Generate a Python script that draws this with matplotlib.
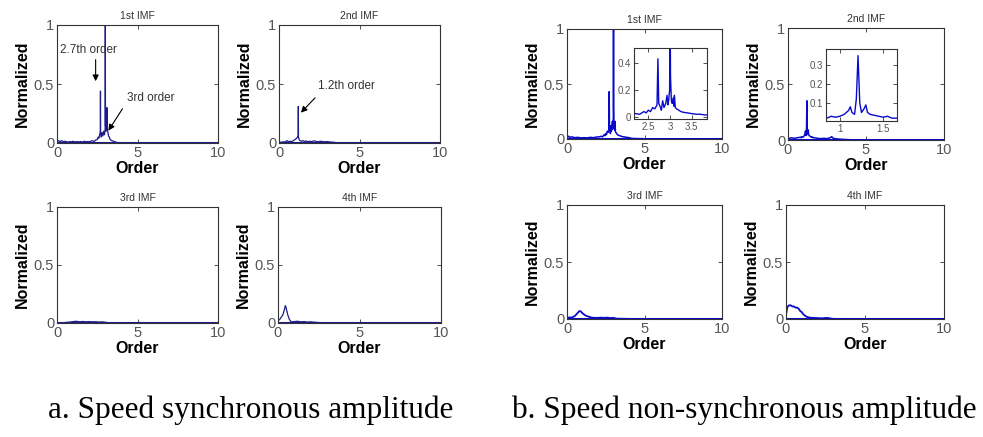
import matplotlib
matplotlib.use("Agg")
import matplotlib.pyplot as plt

plt.rcParams["font.family"] = ["Liberation Sans", "DejaVu Sans"]

# ---- data ----
# a. synchronous, 1st IMF
a1_x = [0, 0.1, 0.2, 0.3, 0.4, 0.5, 0.6, 0.7, 0.8, 0.9, 1.0, 1.1, 1.2, 1.3, 1.4, 1.5,
        1.6, 1.7, 1.8, 1.9, 2.0, 2.1, 2.2, 2.3, 2.4, 2.5, 2.55, 2.6, 2.65, 2.69, 2.7,
        2.71, 2.75, 2.8, 2.85, 2.9, 2.95, 2.99, 3.0, 3.01, 3.05, 3.09, 3.1, 3.11,
        3.15, 3.2, 3.25, 3.3, 3.4, 3.5, 3.6, 3.7, 4.0, 5, 6, 7, 8, 9, 10]
a1_y = [0.01, 0.02, 0.012, 0.02, 0.01, 0.015, 0.01, 0.008, 0.012, 0.01, 0.015, 0.008,
        0.012, 0.01, 0.01, 0.012, 0.008, 0.015, 0.01, 0.012, 0.01, 0.015, 0.02, 0.012,
        0.025, 0.03, 0.05, 0.04, 0.07, 0.1, 0.44, 0.08, 0.05, 0.09, 0.06, 0.1, 0.07,
        0.12, 1.0, 0.15, 0.1, 0.12, 0.3, 0.14, 0.1, 0.06, 0.05, 0.03, 0.02, 0.015,
        0.01, 0.005, 0.002, 0, 0, 0, 0, 0, 0]

# a. synchronous, 2nd IMF
a2_x = [0, 0.2, 0.4, 0.5, 0.6, 0.7, 0.8, 0.9, 1.0, 1.1, 1.15, 1.19, 1.2, 1.21, 1.25,
        1.3, 1.4, 1.5, 1.6, 1.7, 1.8, 1.9, 2.0, 2.2, 2.4, 2.6, 2.8, 3.0, 3.2, 3.4,
        3.6, 4.0, 6, 8, 10]
a2_y = [0.005, 0.008, 0.01, 0.02, 0.01, 0.015, 0.012, 0.02, 0.03, 0.04, 0.05, 0.06,
        0.31, 0.05, 0.03, 0.02, 0.015, 0.02, 0.012, 0.018, 0.01, 0.015, 0.012, 0.018,
        0.01, 0.015, 0.01, 0.012, 0.008, 0.006, 0.003, 0.001, 0, 0, 0]

# a. synchronous, 3rd IMF
a3_x = [0, 0.4, 0.8, 1.0, 1.2, 1.4, 1.6, 1.8, 2.0, 2.2, 2.4, 2.6, 2.8, 3.0, 3.2, 4, 10]
a3_y = [0.002, 0.003, 0.008, 0.012, 0.015, 0.01, 0.013, 0.01, 0.012, 0.01, 0.011,
        0.008, 0.01, 0.006, 0.002, 0.001, 0]

# a. synchronous, 4th IMF
a4_x = [0, 0.1, 0.2, 0.3, 0.4, 0.45, 0.5, 0.6, 0.7, 0.8, 1.0, 1.2, 1.4, 1.6, 1.8,
        2.0, 2.3, 2.6, 3.0, 10]
a4_y = [0.02, 0.03, 0.05, 0.07, 0.12, 0.15, 0.13, 0.07, 0.03, 0.01, 0.012, 0.015,
        0.01, 0.012, 0.008, 0.01, 0.006, 0.003, 0.001, 0]

# b. non-synchronous, 1st IMF
b1_x = [0, 0.1, 0.2, 0.3, 0.5, 0.7, 0.9, 1.1, 1.3, 1.5, 1.7, 1.9, 2.1, 2.2, 2.3, 2.4,
        2.45, 2.5, 2.55, 2.6, 2.65, 2.7, 2.72, 2.74, 2.78, 2.8, 2.83, 2.86, 2.9,
        2.93, 2.95, 2.97, 2.99, 3.0, 3.01, 3.03, 3.05, 3.07, 3.09, 3.1, 3.12, 3.15,
        3.2, 3.25, 3.3, 3.4, 3.5, 3.6, 3.7, 3.8, 3.9, 4.2, 5, 6, 7, 8, 9, 10]
b1_y = [0.01, 0.025, 0.015, 0.02, 0.012, 0.015, 0.01, 0.012, 0.01, 0.015, 0.012,
        0.018, 0.02, 0.025, 0.02, 0.04, 0.03, 0.05, 0.04, 0.07, 0.06, 0.09, 0.43,
        0.1, 0.07, 0.05, 0.12, 0.07, 0.1, 0.16, 0.09, 0.13, 0.2, 1.0, 0.3, 0.12, 0.1,
        0.14, 0.08, 0.16, 0.07, 0.06, 0.05, 0.04, 0.035, 0.03, 0.025, 0.02, 0.02,
        0.015, 0.015, 0.005, 0.002, 0.001, 0, 0, 0, 0]

# b. non-synchronous, 2nd IMF
b2_x = [0, 0.2, 0.4, 0.6, 0.8, 0.85, 0.9, 0.95, 1.0, 1.05, 1.1, 1.12, 1.14, 1.17,
        1.19, 1.21, 1.23, 1.25, 1.28, 1.3, 1.32, 1.35, 1.4, 1.45, 1.5, 1.55, 1.6,
        1.7, 1.9, 2.1, 2.3, 2.5, 2.7, 2.8, 2.9, 3.1, 3.3, 3.6, 4, 6, 8, 10]
b2_y = [0.01, 0.02, 0.015, 0.02, 0.025, 0.02, 0.03, 0.025, 0.03, 0.04, 0.06, 0.08,
        0.05, 0.04, 0.12, 0.35, 0.1, 0.05, 0.07, 0.09, 0.05, 0.04, 0.035, 0.03,
        0.025, 0.03, 0.02, 0.02, 0.015, 0.012, 0.015, 0.012, 0.02, 0.03, 0.015,
        0.01, 0.008, 0.005, 0.002, 0, 0, 0]

# b. non-synchronous, 3rd IMF
b3_x = [0, 0.1, 0.2, 0.3, 0.4, 0.5, 0.6, 0.7, 0.8, 0.9, 1.0, 1.1, 1.2, 1.4, 1.6, 1.8,
        2.0, 2.2, 2.4, 2.6, 2.8, 3.0, 3.2, 4, 10]
b3_y = [0.02, 0.01, 0.015, 0.01, 0.02, 0.025, 0.04, 0.055, 0.07, 0.065, 0.05, 0.04,
        0.03, 0.02, 0.012, 0.01, 0.01, 0.012, 0.01, 0.012, 0.008, 0.01, 0.003,
        0.001, 0]

# b. non-synchronous, 4th IMF
b4_x = [0, 0.05, 0.1, 0.2, 0.3, 0.4, 0.5, 0.6, 0.7, 0.8, 0.9, 1.0, 1.1, 1.2, 1.3,
        1.5, 1.7, 2.0, 2.3, 2.6, 2.8, 3.0, 10]
b4_y = [0.03, 0.08, 0.11, 0.12, 0.12, 0.11, 0.11, 0.1, 0.1, 0.09, 0.07, 0.06, 0.04,
        0.03, 0.02, 0.012, 0.01, 0.008, 0.006, 0.01, 0.005, 0.001, 0]

titles = ["1st IMF", "2nd IMF", "3rd IMF", "4th IMF"]
xticks = [0, 5, 10]
yticks = [0, 0.5, 1]
ytick_labels = ["0", "0.5", "1"]
captions = ["a. Speed synchronous amplitude", "b. Speed non-synchronous amplitude"]

# ---- figure ----
W, H = 983, 437
fig = plt.figure(figsize=(W / 100, H / 100), dpi=100)


def box(l, r, t, b):
    return [l / W, 1 - b / H, (r - l) / W, (b - t) / H]


def style(ax, fs=10.5):
    ax.tick_params(direction="in", top=True, right=True, length=3, width=0.6,
                   labelsize=fs, labelcolor="#555555", color="#333333", pad=2)
    for s in ax.spines.values():
        s.set_linewidth(0.8)
        s.set_color("#333333")


def panel(rect, x, y, title, color, lw):
    ax = fig.add_axes(rect)
    ax.plot(x, y, color=color, lw=lw)
    ax.axhline(0, color=color, lw=2.2)
    ax.set_xlim(0, 10)
    ax.set_ylim(0, 1)
    ax.set_xticks(xticks)
    ax.set_xticklabels([str(t) for t in xticks])
    ax.set_yticks(yticks)
    ax.set_yticklabels(ytick_labels)
    ax.set_title(title, fontsize=7.5, color="#333333", pad=4)
    ax.set_xlabel("Order", fontsize=11.5, fontweight="bold", labelpad=1)
    ax.set_ylabel("Normalized", fontsize=11.5, fontweight="bold", labelpad=3)
    style(ax)
    return ax


navy = "#1c1c8a"
blue = "#0a0acc"

ax_a1 = panel(box(57, 218, 25, 143), a1_x, a1_y, titles[0], navy, 0.9)
ax_a2 = panel(box(279, 440, 25, 143), a2_x, a2_y, titles[1], navy, 0.9)
ax_a3 = panel(box(57, 218, 207, 323), a3_x, a3_y, titles[2], navy, 0.9)
ax_a4 = panel(box(278, 441, 207, 323), a4_x, a4_y, titles[3], navy, 0.9)

ax_b1 = panel(box(567, 722, 29, 139), b1_x, b1_y, titles[0], blue, 1.1)
ax_b2 = panel(box(788, 944, 28, 140), b2_x, b2_y, titles[1], blue, 1.1)
ax_b3 = panel(box(567, 722, 205, 319), b3_x, b3_y, titles[2], blue, 1.3)
ax_b4 = panel(box(786, 944, 205, 319), b4_x, b4_y, titles[3], blue, 1.3)

# annotations, panel a
arrow = dict(arrowstyle="-|>", color="black", lw=0.8, mutation_scale=9)
ax_a1.annotate("", xy=(2.4, 0.5), xytext=(2.4, 0.73), arrowprops=arrow)
ax_a1.text(0.2, 0.79, "2.7th order", fontsize=8.5, color="#333333", va="center")
ax_a1.annotate("", xy=(3.1, 0.085), xytext=(4.16, 0.31), arrowprops=arrow)
ax_a1.text(4.35, 0.38, "3rd order", fontsize=8.5, color="#333333", va="center")
ax_a2.annotate("", xy=(1.24, 0.24), xytext=(2.36, 0.4), arrowprops=arrow)
ax_a2.text(2.42, 0.48, "1.2th order", fontsize=8.5, color="#333333", va="center")

# insets, panel b
in1 = fig.add_axes(box(634, 707, 48, 119))
in1.plot(b1_x, b1_y, color=blue, lw=1.0)
in1.set_xlim(2.17, 3.85)
in1.set_ylim(-0.015, 0.51)
in1.set_xticks([2.5, 3, 3.5])
in1.set_xticklabels(["2.5", "3", "3.5"])
in1.set_yticks([0, 0.2, 0.4])
in1.set_yticklabels(["0", "0.2", "0.4"])
style(in1, fs=7)

in2 = fig.add_axes(box(826, 897, 49, 121))
in2.plot(b2_x, b2_y, color=blue, lw=1.0)
in2.set_xlim(0.84, 1.66)
in2.set_ylim(0.005, 0.385)
in2.set_xticks([1, 1.5])
in2.set_xticklabels(["1", "1.5"])
in2.set_yticks([0.1, 0.2, 0.3])
in2.set_yticklabels(["0.1", "0.2", "0.3"])
style(in2, fs=7)

# captions
fig.text(251 / W, 1 - 410 / H, captions[0], fontsize=22.5, family="Liberation Serif",
         ha="center", va="center")
fig.text(744 / W, 1 - 410 / H, captions[1], fontsize=22.5, family="Liberation Serif",
         ha="center", va="center")

fig.savefig("out.png", dpi=100)
